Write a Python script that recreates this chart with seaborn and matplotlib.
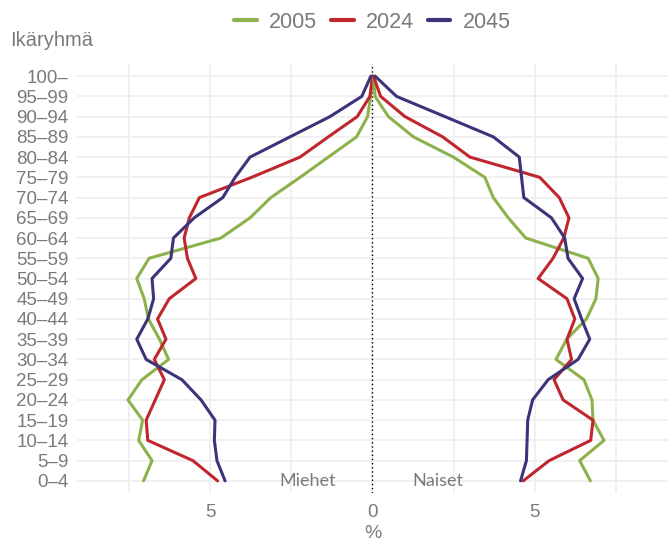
import matplotlib
matplotlib.use("Agg")
import matplotlib.pyplot as plt
import seaborn as sns
import pandas as pd
import numpy as np

age_groups = ["0–4", "5–9", "10–14", "15–19", "20–24", "25–29", "30–34", "35–39",
              "40–44", "45–49", "50–54", "55–59", "60–64", "65–69", "70–74",
              "75–79", "80–84", "85–89", "90–94", "95–99", "100–"]
years = ["2005", "2024", "2045"]

# Men (percent, shown on the left side)
men_2005 = [7.05, 6.79, 7.20, 7.08, 7.53, 7.10, 6.28, 6.56, 6.90, 7.03, 7.26,
            6.88, 4.67, 3.77, 3.13, 2.23, 1.36, 0.49, 0.15, 0.06, 0.0]
men_2024 = [4.77, 5.53, 6.92, 6.97, 6.69, 6.41, 6.72, 6.36, 6.62, 6.26, 5.44,
            5.70, 5.80, 5.64, 5.33, 3.72, 2.23, 1.36, 0.47, 0.08, 0.0]
men_2045 = [4.54, 4.79, 4.87, 4.85, 5.28, 5.87, 6.97, 7.26, 6.92, 6.74, 6.79,
            6.21, 6.13, 5.49, 4.61, 4.23, 3.77, 2.54, 1.31, 0.33, 0.05]
# Women (percent, right side)
women_2005 = [6.71, 6.38, 7.13, 6.79, 6.76, 6.51, 5.65, 5.98, 6.59, 6.88, 6.95,
              6.64, 4.72, 4.18, 3.72, 3.46, 2.49, 1.26, 0.49, 0.08, 0.03]
women_2024 = [4.64, 5.44, 6.72, 6.79, 5.87, 5.59, 6.13, 5.99, 6.23, 5.99, 5.10,
              5.56, 5.89, 6.05, 5.75, 5.15, 3.00, 2.16, 1.00, 0.25, 0.03]
women_2045 = [4.56, 4.74, 4.76, 4.78, 4.93, 5.41, 6.33, 6.69, 6.44, 6.21, 6.47,
              6.02, 5.92, 5.51, 4.66, 4.59, 4.52, 3.72, 2.23, 0.74, 0.08]

men = {"2005": men_2005, "2024": men_2024, "2045": men_2045}
women = {"2005": women_2005, "2024": women_2024, "2045": women_2045}

rows = []
for y in years:
    for i, a in enumerate(age_groups):
        rows.append({"age": a, "pos": i, "value": -men[y][i], "year": y, "sex": "Miehet"})
        rows.append({"age": a, "pos": i, "value": women[y][i], "year": y, "sex": "Naiset"})
df = pd.DataFrame(rows)

palette = {"2005": "#8db24c", "2024": "#c0262d", "2045": "#3b3479"}
grey = "#7a7a7a"

sns.set_theme(style="white")
plt.rcParams["font.family"] = ["Liberation Sans Narrow", "Liberation Sans", "DejaVu Sans"]

fig = plt.figure(figsize=(6.69, 5.43), dpi=100)
ax = fig.add_axes([77 / 669, 1 - 493 / 543, (668 - 77) / 669, (493 - 64) / 543])

for sex, show_leg in [("Miehet", True), ("Naiset", False)]:
    sub = df[df["sex"] == sex]
    sns.lineplot(data=sub, x="value", y="pos", hue="year", hue_order=years,
                 palette=palette, orient="y", sort=True, estimator=None,
                 linewidth=2.2, legend=show_leg, ax=ax)

ax.axvline(0, color="black", linestyle=(0, (1, 2)), linewidth=1.0, zorder=1)

ax.set_xlim(-9.1, 9.1)
ax.set_ylim(-0.6, 20.6)
ax.set_yticks(range(len(age_groups)))
ax.set_yticklabels(age_groups)
xt = [-7.5, -5, -2.5, 0, 2.5, 5, 7.5]
ax.set_xticks(xt)
ax.set_xticklabels(["", "5", "", "0", "", "5", ""])
ax.tick_params(axis="both", length=0, colors=grey, labelsize=13.5)
ax.tick_params(axis="y", pad=6)
ax.tick_params(axis="x", pad=8)
ax.grid(True, color="#eeeeee", linewidth=1.2)
ax.set_axisbelow(True)
for s in ax.spines.values():
    s.set_visible(False)
ax.set_xlabel("%", color=grey, fontsize=14, labelpad=3)
ax.set_ylabel("")

ax.text(-2, 0, "Miehet", ha="center", va="center", color=grey, fontsize=13,
        family=["Lato", "DejaVu Sans"])
ax.text(2, 0, "Naiset", ha="center", va="center", color=grey, fontsize=13,
        family=["Lato", "DejaVu Sans"])

fig.text(10 / 669, 1 - 40 / 543, "Ikäryhmä", ha="left", va="center", color=grey, fontsize=14.5)

leg = ax.get_legend()
handles = leg.legend_handles
labels = [t.get_text() for t in leg.get_texts()]
leg.remove()
for h in handles:
    h.set_linewidth(3)
fig.legend(handles, labels, loc="center", bbox_to_anchor=(372.5 / 669, 1 - 22 / 543), ncol=3,
           frameon=False, fontsize=15.5, handlelength=1.05, handletextpad=0.58,
           columnspacing=0.63, labelcolor=grey, borderpad=0)

fig.savefig("out.png", dpi=100)
